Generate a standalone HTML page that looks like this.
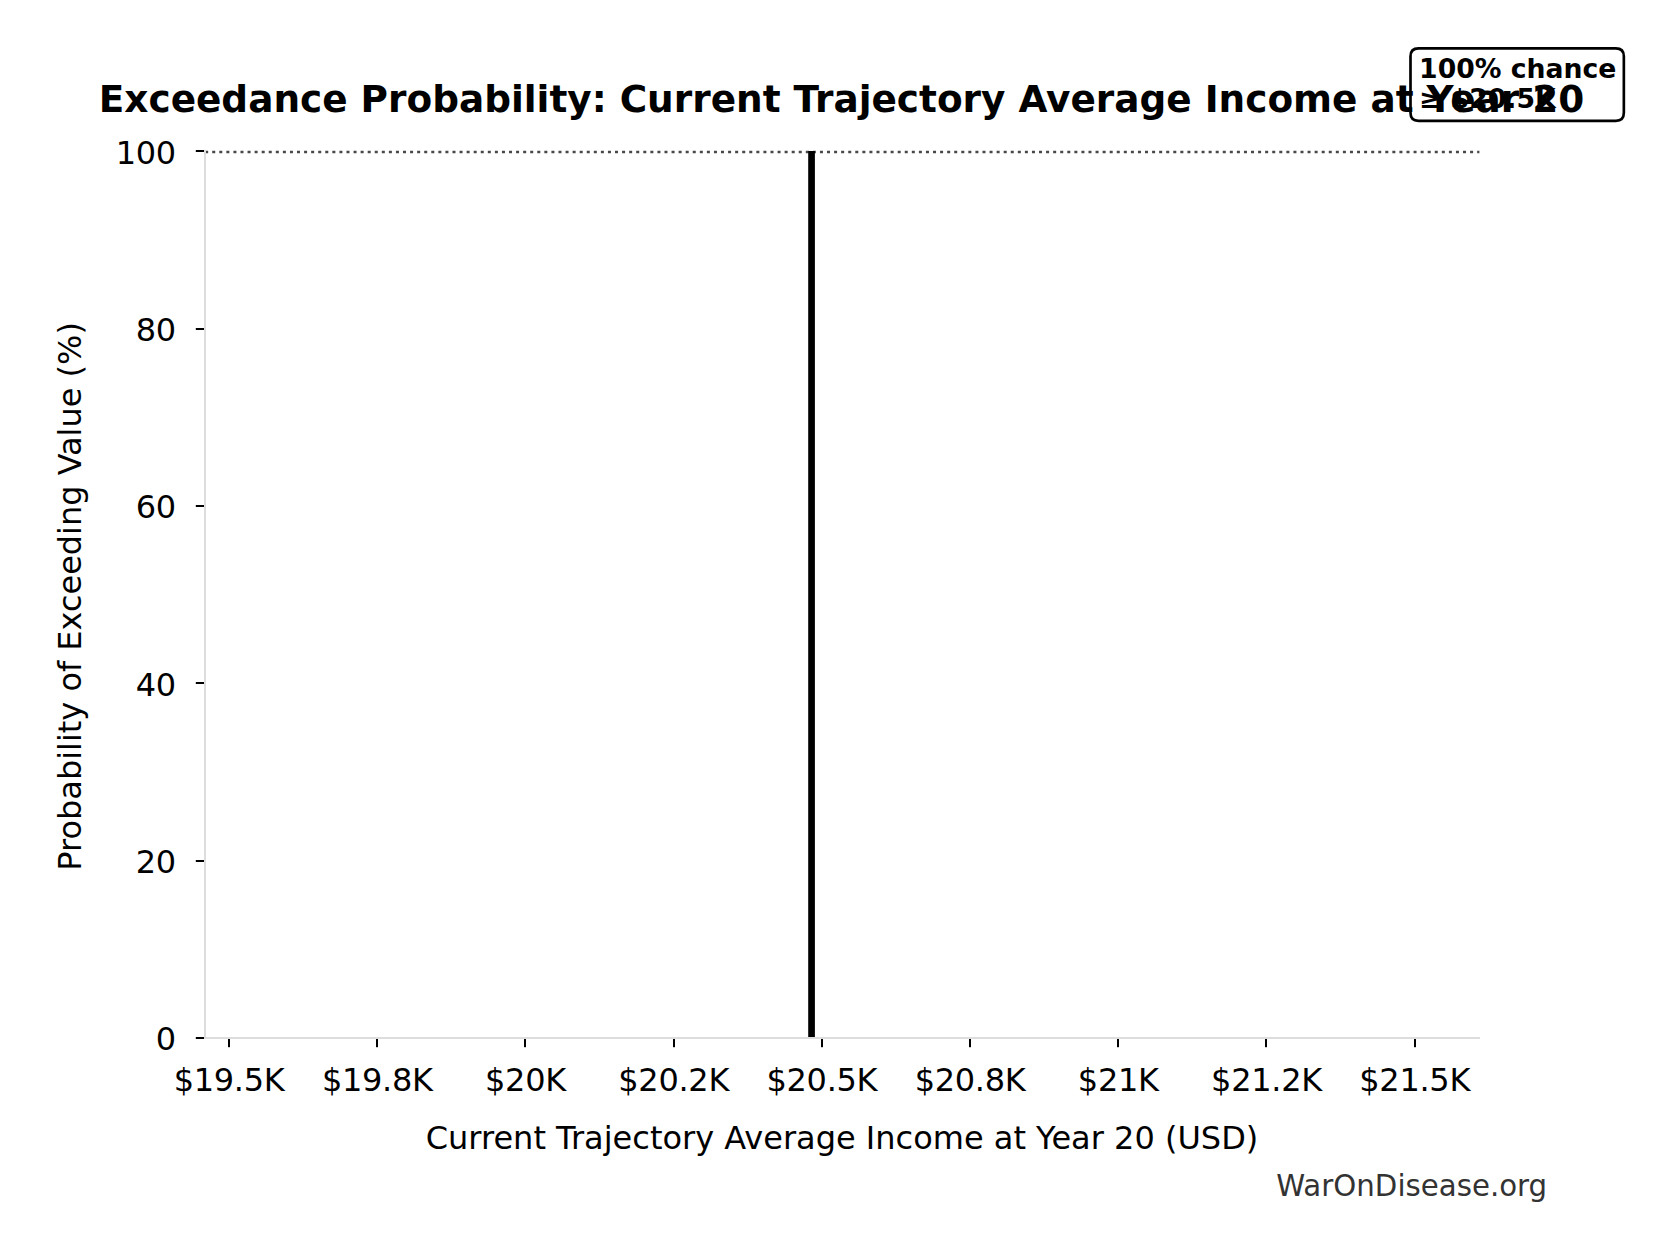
<!DOCTYPE html>
<html lang="en"><head><meta charset="utf-8"><title>Exceedance Probability</title>
<style>
html,body{margin:0;padding:0;background:#fff}
svg{display:block}
text{font-family:"DejaVu Sans","Liberation Sans",sans-serif;fill:#000}
.b{font-weight:bold}
</style></head><body>
<svg width="1673" height="1259" viewBox="0 0 1673 1259">
<rect width="1673" height="1259" fill="#fff"/>
<line x1="205.15" y1="152" x2="1479.4" y2="152" stroke="#484848" stroke-width="2.3" stroke-dasharray="3 4.0667"/>
<rect x="808.2" y="151" width="6.7" height="887" fill="#000"/>
<rect x="228" y="1038" width="2" height="9.2" fill="#000"/>
<text x="229.10" y="1091" font-size="32" text-anchor="middle" letter-spacing="-0.3">$19.5K</text>
<rect x="376" y="1038" width="2" height="9.2" fill="#000"/>
<text x="377.30" y="1091" font-size="32" text-anchor="middle" letter-spacing="-0.3">$19.8K</text>
<rect x="524" y="1038" width="2" height="9.2" fill="#000"/>
<text x="525.50" y="1091" font-size="32" text-anchor="middle" letter-spacing="-0.3">$20K</text>
<rect x="673" y="1038" width="2" height="9.2" fill="#000"/>
<text x="673.70" y="1091" font-size="32" text-anchor="middle" letter-spacing="-0.3">$20.2K</text>
<rect x="821" y="1038" width="2" height="9.2" fill="#000"/>
<text x="821.90" y="1091" font-size="32" text-anchor="middle" letter-spacing="-0.3">$20.5K</text>
<rect x="969" y="1038" width="2" height="9.2" fill="#000"/>
<text x="970.10" y="1091" font-size="32" text-anchor="middle" letter-spacing="-0.3">$20.8K</text>
<rect x="1117" y="1038" width="2" height="9.2" fill="#000"/>
<text x="1118.30" y="1091" font-size="32" text-anchor="middle" letter-spacing="-0.3">$21K</text>
<rect x="1265" y="1038" width="2" height="9.2" fill="#000"/>
<text x="1266.50" y="1091" font-size="32" text-anchor="middle" letter-spacing="-0.3">$21.2K</text>
<rect x="1414" y="1038" width="2" height="9.2" fill="#000"/>
<text x="1414.70" y="1091" font-size="32" text-anchor="middle" letter-spacing="-0.3">$21.5K</text>
<rect x="195.8" y="150" width="9.2" height="2" fill="#000"/>
<text x="175.8" y="163.80" font-size="32" text-anchor="end" letter-spacing="-0.35">100</text>
<rect x="195.8" y="328" width="9.2" height="2" fill="#000"/>
<text x="175.8" y="341.12" font-size="32" text-anchor="end" letter-spacing="-0.35">80</text>
<rect x="195.8" y="505" width="9.2" height="2" fill="#000"/>
<text x="175.8" y="518.44" font-size="32" text-anchor="end" letter-spacing="-0.35">60</text>
<rect x="195.8" y="682" width="9.2" height="2" fill="#000"/>
<text x="175.8" y="695.76" font-size="32" text-anchor="end" letter-spacing="-0.35">40</text>
<rect x="195.8" y="860" width="9.2" height="2" fill="#000"/>
<text x="175.8" y="873.08" font-size="32" text-anchor="end" letter-spacing="-0.35">20</text>
<rect x="195.8" y="1037" width="9.2" height="2" fill="#000"/>
<text x="175.8" y="1050.40" font-size="32" text-anchor="end" letter-spacing="-0.35">0</text>
<rect x="204" y="150" width="2" height="889" fill="#ddd"/>
<rect x="204" y="1037" width="1276" height="2" fill="#ddd"/>
<text x="842" y="1149" font-size="32" text-anchor="middle">Current Trajectory Average Income at Year 20 (USD)</text>
<text transform="translate(81 596.4) rotate(-90)" font-size="31.96" text-anchor="middle">Probability of Exceeding Value (%)</text>
<text x="1547.2" y="1196.4" font-size="29.25" text-anchor="end" style="fill:#333">WarOnDisease.org</text>
<path d="M1418.5 48.4 L1615.85 48.4 Q1623.85 48.4 1623.85 56.4 L1623.85 112.8 Q1623.85 120.8 1615.85 120.8 L1418.5 120.8 Q1410.5 120.8 1410.5 112.8 L1410.5 56.4 Q1410.5 48.4 1418.5 48.4 Z" fill="#fff" stroke="#000" stroke-width="2.667" stroke-linejoin="miter"/>
<text x="1419.1" y="78" font-size="26.67" class="b">100% chance</text>
<text x="1419.0" y="108.2" font-size="26.67" class="b">≥ $20.5K</text>
<text x="841.6" y="111.8" font-size="37.42" text-anchor="middle" class="b">Exceedance Probability: Current Trajectory Average Income at Year 20</text>
</svg></body></html>
